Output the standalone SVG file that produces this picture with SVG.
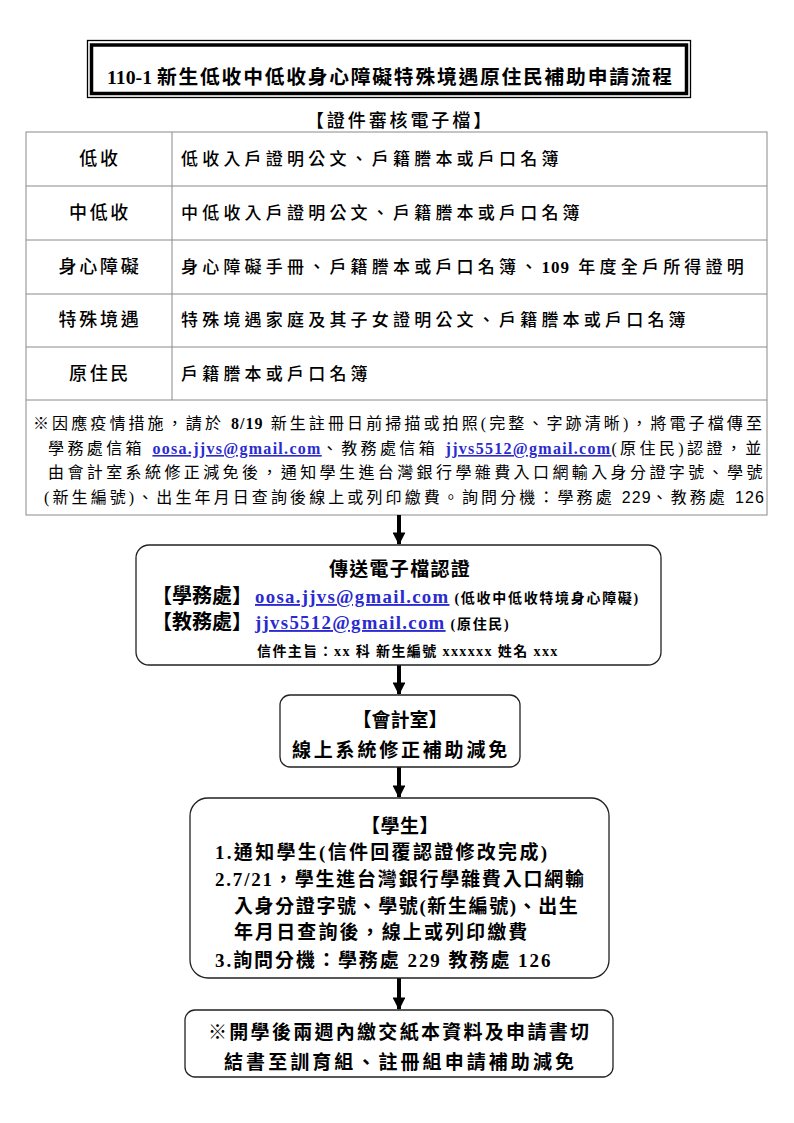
<svg xmlns="http://www.w3.org/2000/svg" width="794" height="1123" viewBox="0 0 794 1123">
<style>
text{font-family:"Liberation Serif","Noto Sans CJK TC",serif;fill:#000}
.t{font-size:19.8px;font-weight:bold;letter-spacing:1.75px}
.h{font-size:18px;font-weight:500;letter-spacing:2.9px}
.lab{font-size:18px;font-weight:500;letter-spacing:2.7px}
.c{font-size:17px;font-weight:500;letter-spacing:4.2px}
.n{font-size:16px}
.b{font-size:19px;font-weight:bold}
.m{text-anchor:middle}
.lat{letter-spacing:1px}
.lnk{fill:#2a2ad0;text-decoration:underline;font-weight:bold;letter-spacing:1.3px}
.sans{font-family:"Liberation Sans","Noto Sans CJK TC",sans-serif;letter-spacing:1px}
.grid{stroke:#8a8a8a;stroke-width:1;fill:none}
.box{fill:#fff;stroke:#222;stroke-width:1.3}
.shaft{stroke:#000;stroke-width:4}
</style>
<defs>
<marker id="ah" viewBox="0 0 10 10" refX="9" refY="5" markerWidth="3.2" markerHeight="3.2" orient="auto" markerUnits="strokeWidth">
<path d="M0,0 L10,5 L0,10 z" fill="#000"/>
</marker>
</defs>
<rect width="794" height="1123" fill="#fff"/>

<g id="title">
<rect x="87.5" y="40.5" width="603" height="57" fill="none" stroke="#000" stroke-width="1.3"/>
<rect x="91.5" y="45" width="595" height="48.5" fill="none" stroke="#000" stroke-width="3.5"/>
<text class="t" x="107" y="84"><tspan letter-spacing="0">110-1 </tspan>新生低收中低收身心障礙特殊境遇原住民補助申請流程</text>
</g>

<g id="table">
<text class="h m" x="400" y="127">【證件審核電子檔】</text>
<rect class="grid" x="26" y="132" width="741" height="383"/>
<path class="grid" d="M26,186H767M26,240H767M26,294H767M26,347H767M26,400H767M172,132V400"/>
<g id="row1">
<text class="lab m" x="100" y="165">低收</text>
<text class="c" x="181" y="165">低收入戶證明公文、戶籍謄本或戶口名簿</text>
</g>
<g id="row2">
<text class="lab m" x="100" y="219">中低收</text>
<text class="c" x="181" y="219">中低收入戶證明公文、戶籍謄本或戶口名簿</text>
</g>
<g id="row3">
<text class="lab m" x="100" y="273">身心障礙</text>
<text class="c" x="181" y="273">身心障礙手冊、戶籍謄本或戶口名簿、<tspan font-weight="bold" class="lat">109</tspan> 年度全戶所得證明</text>
</g>
<g id="row4">
<text class="lab m" x="100" y="326">特殊境遇</text>
<text class="c" x="181" y="326">特殊境遇家庭及其子女證明公文、戶籍謄本或戶口名簿</text>
</g>
<g id="row5">
<text class="lab m" x="100" y="380">原住民</text>
<text class="c" x="181" y="380">戶籍謄本或戶口名簿</text>
</g>
<g id="note">
<text class="n" x="33" y="429" letter-spacing="3.1">※因應疫情措施，請於 <tspan font-weight="bold" class="lat">8/19</tspan> 新生註冊日前掃描或拍照(完整、字跡清晰)，將電子檔傳至</text>
<text class="n" x="48" y="454" letter-spacing="3.4">學務處信箱 <tspan class="lnk">oosa.jjvs@gmail.com</tspan>、教務處信箱 <tspan class="lnk">jjvs5512@gmail.com</tspan>(原住民)認證，並</text>
<text class="n" x="48" y="478" letter-spacing="3.4">由會計室系統修正減免後，通知學生進台灣銀行學雜費入口網輸入身分證字號、學號</text>
<text class="n" x="44" y="503" letter-spacing="3.1">(新生編號)、出生年月日查詢後線上或列印繳費。詢問分機：學務處 <tspan class="sans">229</tspan>、教務處 <tspan class="sans">126</tspan></text>
</g>
</g>

<g id="connectors">
<line class="shaft" x1="399" y1="515" x2="399" y2="544" marker-end="url(#ah)"/>
<line class="shaft" x1="399" y1="665" x2="399" y2="694" marker-end="url(#ah)"/>
<line class="shaft" x1="399" y1="767" x2="399" y2="797" marker-end="url(#ah)"/>
<line class="shaft" x1="399" y1="978" x2="399" y2="1009" marker-end="url(#ah)"/>
</g>

<g id="send">
<rect class="box" x="136" y="545" width="525" height="120" rx="13"/>
<text class="b m" x="400" y="576" letter-spacing="1.3">傳送電子檔認證</text>
<text x="152" y="603" font-size="20" font-weight="bold">【學務處】<tspan class="lnk" font-size="18.8" letter-spacing="0" dx="3">oosa.jjvs@gmail.com</tspan><tspan font-size="14" dx="5" letter-spacing="1.7">(低收中低收特境身心障礙)</tspan></text>
<text x="152" y="629" font-size="20" font-weight="bold">【教務處】<tspan class="lnk" font-size="18.8" letter-spacing="0" dx="3">jjvs5512@gmail.com</tspan><tspan font-size="14" dx="5" letter-spacing="1.7">(原住民)</tspan></text>
<text x="257" y="656" font-size="14" font-weight="bold" letter-spacing="1.4">信件主旨：xx 科 新生編號 xxxxxx 姓名 xxx</text>
</g>

<g id="accounting">
<rect class="box" x="280" y="695" width="240" height="72" rx="10"/>
<text class="b m" x="400" y="727" letter-spacing="0">【會計室】</text>
<text class="b m" x="401" y="757" letter-spacing="2.8">線上系統修正補助減免</text>
</g>

<g id="student">
<rect class="box" x="190" y="798" width="419" height="180" rx="18"/>
<text class="b m" x="400" y="833" letter-spacing="0.5">【學生】</text>
<text class="b" x="215" y="859" letter-spacing="2.3">1.通知學生(信件回覆認證修改完成)</text>
<text class="b" x="215" y="886" letter-spacing="1.8">2.7/21，學生進台灣銀行學雜費入口網輸</text>
<text class="b" x="234" y="913" letter-spacing="1.6">入身分證字號、學號(新生編號)、出生</text>
<text class="b" x="234" y="939" letter-spacing="2.1">年月日查詢後，線上或列印繳費</text>
<text class="b" x="215" y="967" letter-spacing="1.95">3.詢問分機：學務處 229 教務處 126</text>
</g>

<g id="paper">
<rect class="box" x="185" y="1010" width="428" height="67" rx="10"/>
<text class="b" x="208" y="1039" textLength="381">※開學後兩週內繳交紙本資料及申請書切</text>
<text class="b" x="224" y="1069" textLength="350">結書至訓育組、註冊組申請補助減免</text>
</g>
</svg>
